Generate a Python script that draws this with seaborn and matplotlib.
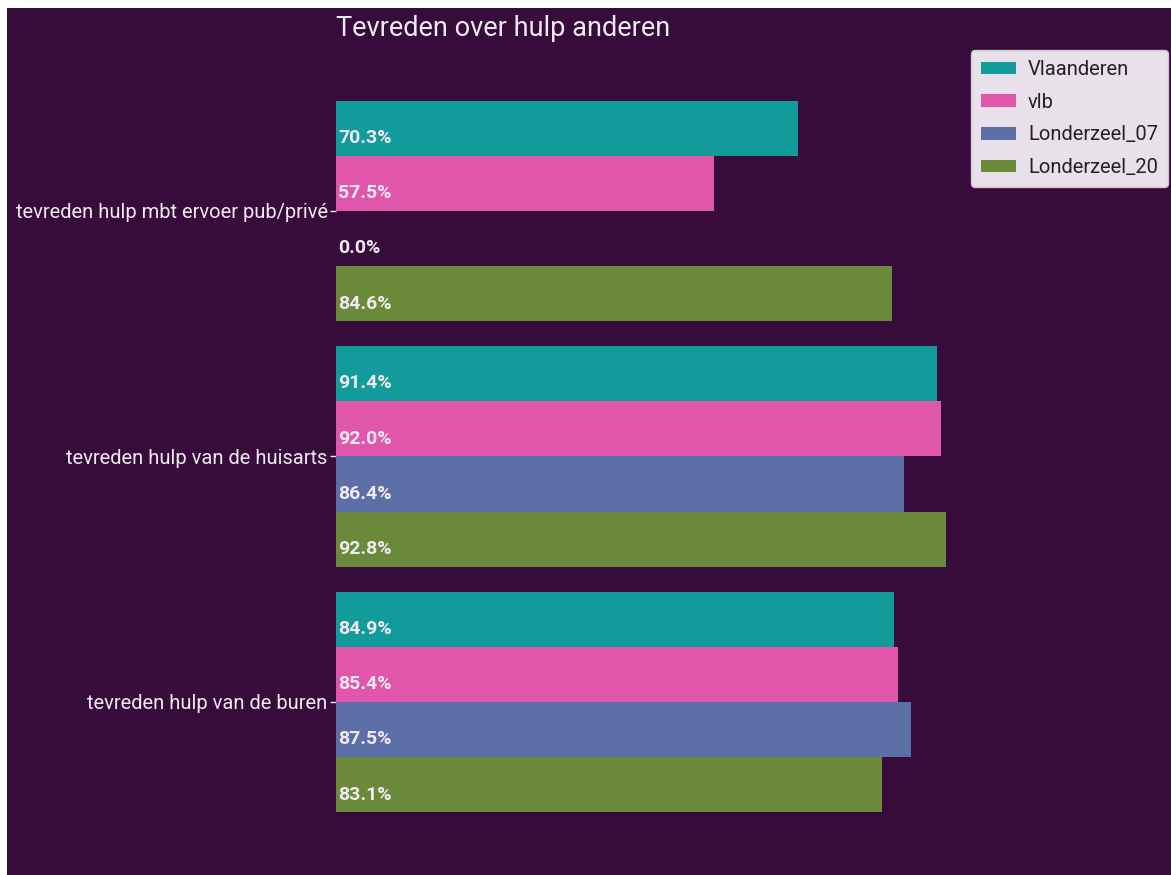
#! /usr/bin/env python3
'''
Tevreden over hulp anderen - horizontal grouped bars
'''

import matplotlib
matplotlib.use('Agg')
import matplotlib.pyplot as plt
from matplotlib.patches import Rectangle
import pandas as pd
import seaborn as sns

# data
CATEGORIES = ['tevreden hulp mbt ervoer pub/privé',
              'tevreden hulp van de huisarts',
              'tevreden hulp van de buren']
REGIONS = ['Vlaanderen', 'vlb', 'Londerzeel_07', 'Londerzeel_20']
VLAANDEREN = [70.3, 91.4, 84.9]
VLB = [57.5, 92.0, 85.4]
LONDERZEEL_07 = [0.0, 86.4, 87.5]
LONDERZEEL_20 = [84.6, 92.8, 83.1]
TITLE = 'Tevreden over hulp anderen'

# colors
BG = '#370b3a'
PALETTE = {'Vlaanderen': '#129b9b', 'vlb': '#df56aa',
           'Londerzeel_07': '#5c6ea6', 'Londerzeel_20': '#6a8a3a'}
TXT = '#f2eaf2'

W, H = 1171, 875

sns.set_style('white')
plt.rcParams['font.family'] = ['Roboto', 'DejaVu Sans']

rows = []
for reg, vals in zip(REGIONS, [VLAANDEREN, VLB, LONDERZEEL_07, LONDERZEEL_20]):
    for cat, v in zip(CATEGORIES, vals):
        rows.append({'categorie': cat, 'regio': reg, 'waarde': v})
df = pd.DataFrame(rows)

fig = plt.figure(figsize=(W / 100, H / 100), dpi=100, facecolor='white')
# dark panel (the screenshot shows a thin white page border top/left)
fig.patches.append(Rectangle((7 / W, 0), 1 - 7 / W, 1 - 8 / H, transform=fig.transFigure,
                             facecolor=BG, edgecolor='none', zorder=-10))

ax = fig.add_axes([336 / W, 0.0294, 657.5 / W, 0.8978])
ax.set_facecolor('none')
sns.barplot(data=df, y='categorie', x='waarde', hue='regio', orient='h',
            order=CATEGORIES, hue_order=REGIONS, palette=PALETTE,
            width=0.9, saturation=1, linewidth=0, ax=ax)

ax.set_xlim(0, 100)
ax.set_ylim(2.6, -0.6)
for s in ax.spines.values():
    s.set_visible(False)
ax.set_xticks([])
ax.set_xlabel('')
ax.set_ylabel('')
ax.tick_params(axis='y', colors=TXT, labelsize=14.5, length=4, width=1, pad=2, left=True)

# value labels at the start of each bar
for cont, reg in zip(ax.containers, REGIONS):
    for bar in cont:
        v = bar.get_width()
        yc = bar.get_y() + bar.get_height() / 2
        ax.text(0.3, yc + 0.04, f'{v:.1f}%', color=TXT, fontsize=14, fontweight='bold',
                ha='left', va='center')

leg = ax.legend(loc='upper right', bbox_to_anchor=(1168 / W, 1 - 50 / H),
                bbox_transform=fig.transFigure, borderaxespad=0, frameon=True,
                fontsize=14.5, handlelength=1.75, handleheight=0.6, labelspacing=0.68,
                handletextpad=0.6, borderpad=0.5,
                facecolor='#e9e1ea', edgecolor='#cfc6d0', framealpha=1)
for t in leg.get_texts():
    t.set_color('#222222')

fig.text(336 / W, 1 - 36 / H, TITLE, color=TXT, fontsize=19.5, ha='left', va='baseline')

fig.savefig('out.png', dpi=100, facecolor=fig.get_facecolor())
